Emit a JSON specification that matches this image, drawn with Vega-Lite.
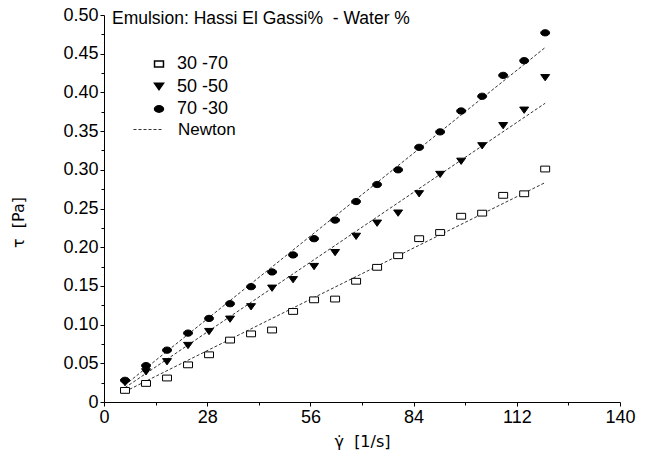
{
  "$schema": "https://vega.github.io/schema/vega-lite/v6.json",
  "autosize": {"type": "none"},
  "width": 516,
  "height": 387,
  "padding": {"left": 104, "top": 15, "right": 28, "bottom": 57},
  "background": "white",
  "config": {
    "view": {"stroke": null},
    "font": "Liberation Sans",
    "axis": {"grid": false, "labelOverlap": false, "labelBound": false, "domainColor": "#000", "tickColor": "#000", "labelColor": "#000", "titleColor": "#000", "labelFont": "Liberation Sans", "titleFont": "DejaVu Sans", "titleFontWeight": "normal", "labelFontSize": 18, "titleFontSize": 16}
  },
  "title": {
    "text": "Emulsion: Hassi El Gassi%\u00a0\u00a0- Water %",
    "anchor": "start",
    "frame": "group",
    "baseline": "top",
    "offset": 0,
    "dx": 8,
    "dy": 21,
    "font": "Liberation Sans",
    "fontSize": 17.5,
    "fontWeight": "normal",
    "color": "#000"
  },
  "datasets": {
    "pts": [
      {"series": "30 -70", "x": 5.7, "y": 0.015},
      {"series": "30 -70", "x": 11.4, "y": 0.024},
      {"series": "30 -70", "x": 17.1, "y": 0.031},
      {"series": "30 -70", "x": 22.8, "y": 0.048},
      {"series": "30 -70", "x": 28.5, "y": 0.061},
      {"series": "30 -70", "x": 34.2, "y": 0.080},
      {"series": "30 -70", "x": 39.9, "y": 0.088},
      {"series": "30 -70", "x": 45.6, "y": 0.093},
      {"series": "30 -70", "x": 51.3, "y": 0.117},
      {"series": "30 -70", "x": 57.0, "y": 0.132},
      {"series": "30 -70", "x": 62.7, "y": 0.133},
      {"series": "30 -70", "x": 68.4, "y": 0.156},
      {"series": "30 -70", "x": 74.1, "y": 0.174},
      {"series": "30 -70", "x": 79.8, "y": 0.189},
      {"series": "30 -70", "x": 85.5, "y": 0.211},
      {"series": "30 -70", "x": 91.2, "y": 0.219},
      {"series": "30 -70", "x": 96.9, "y": 0.240},
      {"series": "30 -70", "x": 102.6, "y": 0.244},
      {"series": "30 -70", "x": 108.3, "y": 0.267},
      {"series": "30 -70", "x": 114.0, "y": 0.269},
      {"series": "30 -70", "x": 119.7, "y": 0.301},
      {"series": "50 -50", "x": 5.7, "y": 0.025},
      {"series": "50 -50", "x": 11.4, "y": 0.039},
      {"series": "50 -50", "x": 17.1, "y": 0.052},
      {"series": "50 -50", "x": 22.8, "y": 0.073},
      {"series": "50 -50", "x": 28.5, "y": 0.091},
      {"series": "50 -50", "x": 34.2, "y": 0.107},
      {"series": "50 -50", "x": 39.9, "y": 0.123},
      {"series": "50 -50", "x": 45.6, "y": 0.147},
      {"series": "50 -50", "x": 51.3, "y": 0.158},
      {"series": "50 -50", "x": 57.0, "y": 0.175},
      {"series": "50 -50", "x": 62.7, "y": 0.193},
      {"series": "50 -50", "x": 68.4, "y": 0.214},
      {"series": "50 -50", "x": 74.1, "y": 0.231},
      {"series": "50 -50", "x": 79.8, "y": 0.244},
      {"series": "50 -50", "x": 85.5, "y": 0.269},
      {"series": "50 -50", "x": 91.2, "y": 0.294},
      {"series": "50 -50", "x": 96.9, "y": 0.311},
      {"series": "50 -50", "x": 102.6, "y": 0.331},
      {"series": "50 -50", "x": 108.3, "y": 0.357},
      {"series": "50 -50", "x": 114.0, "y": 0.377},
      {"series": "50 -50", "x": 119.7, "y": 0.419},
      {"series": "70 -30", "x": 5.7, "y": 0.028},
      {"series": "70 -30", "x": 11.4, "y": 0.047},
      {"series": "70 -30", "x": 17.1, "y": 0.067},
      {"series": "70 -30", "x": 22.8, "y": 0.089},
      {"series": "70 -30", "x": 28.5, "y": 0.108},
      {"series": "70 -30", "x": 34.2, "y": 0.127},
      {"series": "70 -30", "x": 39.9, "y": 0.149},
      {"series": "70 -30", "x": 45.6, "y": 0.168},
      {"series": "70 -30", "x": 51.3, "y": 0.190},
      {"series": "70 -30", "x": 57.0, "y": 0.211},
      {"series": "70 -30", "x": 62.7, "y": 0.235},
      {"series": "70 -30", "x": 68.4, "y": 0.259},
      {"series": "70 -30", "x": 74.1, "y": 0.281},
      {"series": "70 -30", "x": 79.8, "y": 0.300},
      {"series": "70 -30", "x": 85.5, "y": 0.329},
      {"series": "70 -30", "x": 91.2, "y": 0.349},
      {"series": "70 -30", "x": 96.9, "y": 0.376},
      {"series": "70 -30", "x": 102.6, "y": 0.395},
      {"series": "70 -30", "x": 108.3, "y": 0.422},
      {"series": "70 -30", "x": 114.0, "y": 0.441},
      {"series": "70 -30", "x": 119.7, "y": 0.477}
    ],
    "fits": [
      {"series": "30 -70", "fit": "Newton", "x": 5.7, "y": 0.0135},
      {"series": "30 -70", "fit": "Newton", "x": 119.7, "y": 0.2835},
      {"series": "50 -50", "fit": "Newton", "x": 5.7, "y": 0.0185},
      {"series": "50 -50", "fit": "Newton", "x": 119.7, "y": 0.386},
      {"series": "70 -30", "fit": "Newton", "x": 5.7, "y": 0.022},
      {"series": "70 -30", "fit": "Newton", "x": 119.7, "y": 0.458}
    ]
  },
  "layer": [
    {
      "data": {"name": "fits"},
      "mark": {"type": "line", "color": "#333", "strokeWidth": 1},
      "encoding": {
        "x": {"field": "x", "type": "quantitative", "scale": {"domain": [0, 140], "nice": false, "zero": false},
          "axis": {"title": "γ̇\u00a0\u00a0[1/s]", "values": [0, 14, 28, 42, 56, 70, 84, 98, 112, 126, 140],
            "labelExpr": "datum.value % 28 === 0 ? datum.label : ''",
            "tickSize": {"condition": {"test": "datum.value % 28 === 0", "value": 4}, "value": 3},
            "labelPadding": 2, "titlePadding": 7, "labelFlush": false, "labelOverlap": false}},
        "y": {"field": "y", "type": "quantitative", "scale": {"domain": [0, 0.5], "nice": false, "zero": false},
          "axis": {"title": "τ\u00a0\u00a0[Pa]", "values": [0, 0.025, 0.05, 0.075, 0.1, 0.125, 0.15, 0.175, 0.2, 0.225, 0.25, 0.275, 0.3, 0.325, 0.35, 0.375, 0.4, 0.425, 0.45, 0.475, 0.5],
            "labelExpr": "round(datum.value*1000) % 50 === 0 ? (datum.value === 0 ? '0' : format(datum.value, '.2f')) : ''",
            "tickSize": {"condition": {"test": "round(datum.value*1000) % 50 === 0", "value": 4}, "value": 3},
            "titleY": 207, "labelSeparation": -30,
            "labelPadding": 2, "titlePadding": 36, "labelFlush": false, "labelOverlap": false}},
        "detail": {"field": "series"},
        "strokeDash": {"field": "fit", "type": "nominal", "scale": {"range": [[3, 2]]},
          "legend": {"title": null, "orient": "none", "legendX": 29, "legendY": 99, "symbolType": "stroke", "symbolSize": 900, "symbolStrokeWidth": 1, "symbolStrokeColor": "#333", "labelFontSize": 17, "labelFont": "Liberation Sans", "labelColor": "#000", "labelOffset": 14, "padding": 0}}
      }
    },
    {
      "data": {"name": "pts"},
      "mark": {"type": "point", "filled": false, "stroke": "#000", "strokeWidth": 1, "opacity": 1, "size": 80},
      "encoding": {
        "x": {"field": "x", "type": "quantitative"},
        "y": {"field": "y", "type": "quantitative", "axis": {"title": "τ\u00a0\u00a0[Pa]", "values": [0, 0.025, 0.05, 0.075, 0.1, 0.125, 0.15, 0.175, 0.2, 0.225, 0.25, 0.275, 0.3, 0.325, 0.35, 0.375, 0.4, 0.425, 0.45, 0.475, 0.5],
            "labelExpr": "round(datum.value*1000) % 50 === 0 ? (datum.value === 0 ? '0' : format(datum.value, '.2f')) : ''",
            "tickSize": {"condition": {"test": "round(datum.value*1000) % 50 === 0", "value": 4}, "value": 3},
            "titleY": 207, "labelSeparation": -30,
            "labelPadding": 2, "titlePadding": 36, "labelFlush": false, "labelOverlap": false}},
        "shape": {"field": "series", "type": "nominal",
          "scale": {"domain": ["30 -70", "50 -50", "70 -30"], "range": ["M-1,-0.65H1V0.65H-1Z", "M-1,-0.7L1,-0.7L0,0.7Z", "M-1,0A1,0.7,0,1,1,1,0A1,0.7,0,1,1,-1,0Z"]},
          "legend": {"title": null, "orient": "none", "legendX": 46, "legendY": 40, "labelFontSize": 18, "labelFont": "Liberation Sans", "labelColor": "#000", "labelOffset": 9, "rowPadding": 4.5, "padding": 0, "symbolSize": 80,
            "encode": {"symbols": {"update": {"stroke": {"value": "#000"}, "strokeWidth": {"value": 1}, "opacity": {"value": 1}}}}}},
        "fill": {"field": "series", "type": "nominal",
          "scale": {"domain": ["30 -70", "50 -50", "70 -30"], "range": ["#ffffff", "#000000", "#000000"]},
          "legend": null}
      }
    }
  ]
}
